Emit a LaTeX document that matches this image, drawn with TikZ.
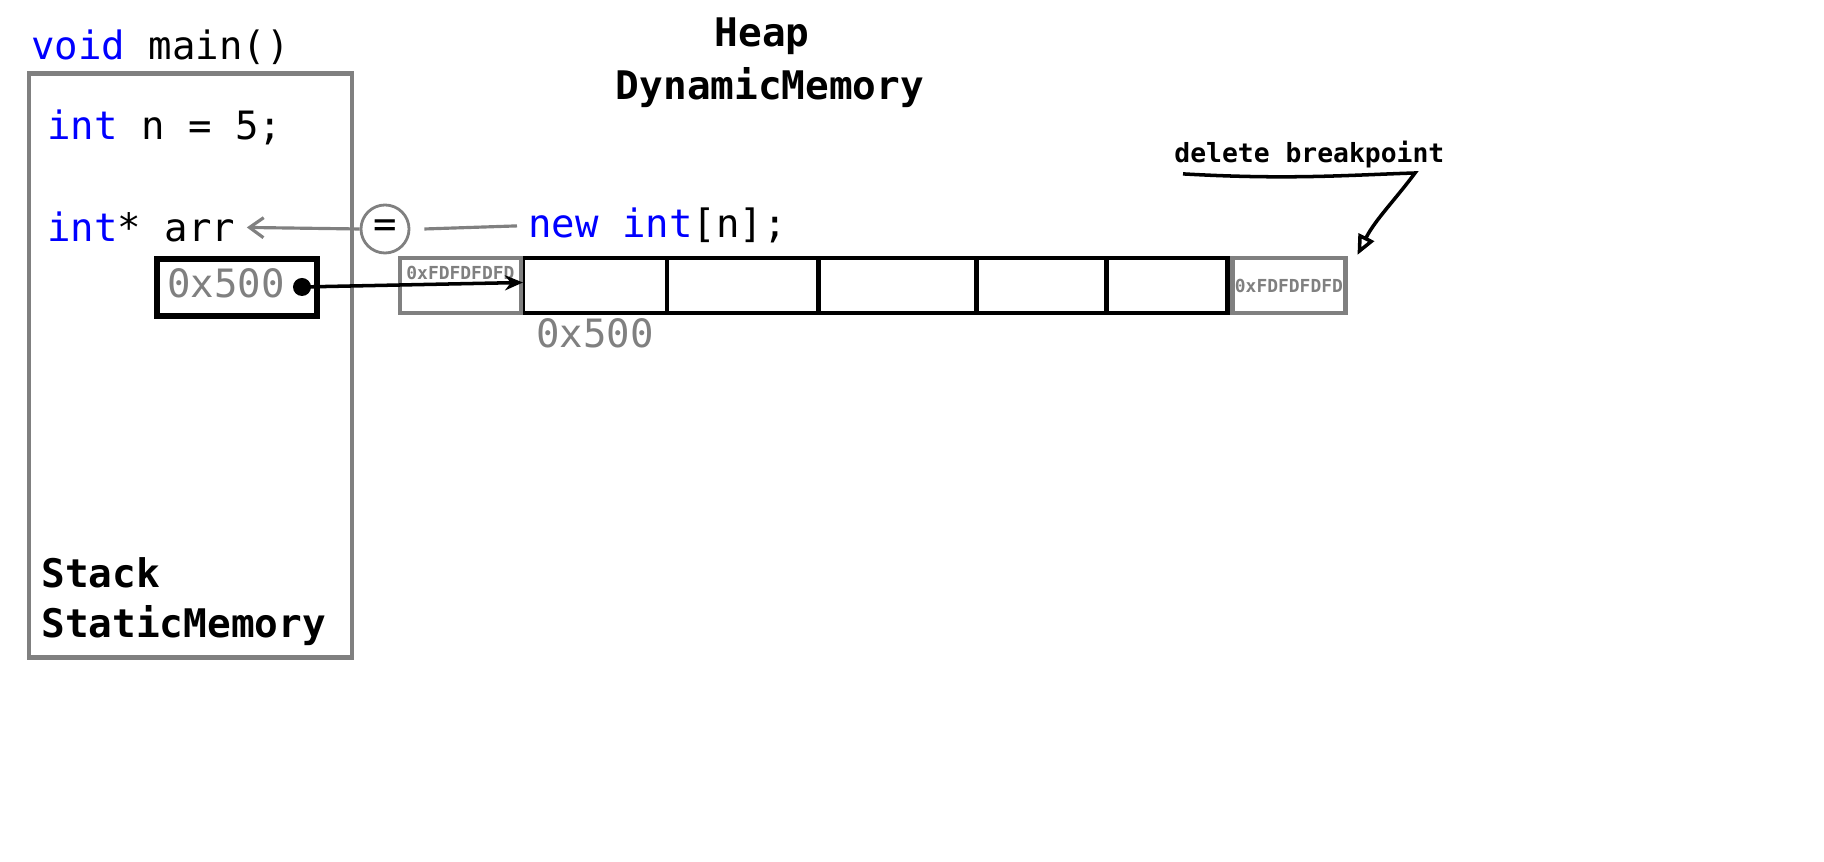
\documentclass[tikz,border=0pt]{standalone}
\usepackage{fontspec}
\usepackage{xcolor}
\usetikzlibrary{positioning,arrows.meta}
\setmonofont{DejaVu Sans Mono}

\definecolor{memgray}{RGB}{128,128,128}
\definecolor{kwblue}{RGB}{0,0,255}
\newcommand{\kw}[1]{\textcolor{kwblue}{#1}}

\begin{document}
\begin{tikzpicture}[
        x=0.01cm, y=-0.01cm,
        code/.style={font=\ttfamily\fontsize{11.1}{13}\selectfont, inner sep=0pt, anchor=base west},
        memlabel/.style={font=\ttfamily\bfseries\fontsize{11.2}{13}\selectfont, inner sep=0pt},
        hexsmall/.style={font=\ttfamily\bfseries\fontsize{5.1}{6}\selectfont, text=memgray, inner sep=0pt},
        cell/.style={draw=black, line width=1.35pt, minimum height=0.55cm, outer sep=0pt, inner sep=0pt},
        guard/.style={draw=memgray, line width=1.35pt, minimum height=0.55cm, outer sep=0pt, inner sep=0pt},
        thick]

        \useasboundingbox[fill=white] (0,0) rectangle (1824,862);

        % NODES
        % stack frame
        \node[code] (fn) at (30,60) {\kw{void} main()};
        \node[draw=memgray, line width=1.35pt, minimum width=3.23cm, minimum height=5.83cm] (stack) at (190.5,365.5) {};
        \node[code] (ncode) at (46,140) {\kw{int} n = 5;};
        \node[code] (arrcode) at (46,242) {\kw{int}* arr};
        \node[draw=black, line width=1.6pt, minimum width=1.6cm, minimum height=0.57cm] (ptr) at (237,287.5) {};
        \node[code, text=memgray] (ptrval) at (166,298) {0x500};
        \node[circle, fill=black, minimum size=0.18cm, inner sep=0pt] (ptrdot) at (302,287) {};
        \node[memlabel, anchor=base west] (stk) at (40,588) {Stack};
        \node[memlabel, anchor=base west] (stkmem) at (40,638) {StaticMemory};

        % heap
        \node[memlabel, anchor=base] (heap) at (762,47) {Heap};
        \node[memlabel, anchor=base] (dyn) at (770,100) {DynamicMemory};
        \node[code] (newcode) at (527,238) {\kw{new} \kw{int}[n];};
        \node[circle, draw=memgray, line width=0.8pt, minimum size=0.48cm, inner sep=0pt, font=\ttfamily\fontsize{11.1}{13}\selectfont] (eq) at (385,229) {=};

        % array
        \node[cell, minimum width=1.44cm] (cell1) at (595,285.5) {};
        \node[cell, minimum width=1.51cm, right=0cm of cell1] (cell2) {};
        \node[cell, minimum width=1.58cm, right=0cm of cell2] (cell3) {};
        \node[cell, minimum width=1.30cm, right=0cm of cell3] (cell4) {};
        \node[cell, minimum width=1.21cm, right=0cm of cell4] (cell5) {};
        \node[code, text=memgray] (addr) at (535,348) {0x500};

        % guard bytes
        \node[guard, minimum width=1.21cm, left=0.02cm of cell1] (guardL) {};
        \node[guard, minimum width=1.13cm, right=0.05cm of cell5] (guardR) {};
        \node[hexsmall, anchor=north, below=0.07cm of guardL.north] (guardLval) {0xFDFDFDFD};
        \node[hexsmall] (guardRval) at (guardR) {0xFDFDFDFD};

        % note
        \node[font=\ttfamily\bfseries\fontsize{7.5}{9}\selectfont, inner sep=0pt, anchor=base west] (brk) at (1173,163) {delete breakpoint};
        \coordinate (brktip) at ([xshift=0.12cm,yshift=0.03cm]guardR.north east);

        % ARROWS
        \draw[-{Stealth[length=0.18cm,width=0.15cm]}, line width=1pt] (ptrdot.center)--([yshift=0.03cm]cell1.west);
        \draw[-{Straight Barb[length=0.14cm,width=0.2cm]}, draw=memgray, line width=0.9pt] (eq.west)--([xshift=0.1cm]arrcode.east);
        \draw[draw=memgray, line width=0.9pt] ([xshift=0.14cm]eq.east)--([xshift=-0.1cm]newcode.west);
        \draw[-{Triangle[open,length=0.2cm,width=0.17cm]}, line width=1pt]
            ([xshift=0.1cm,yshift=-0.04cm]brk.south west) .. controls (1290,180) and (1350,175) .. (1415,173)
            .. controls (1395,200) and (1375,220) .. (brktip);
\end{tikzpicture}
\end{document}
